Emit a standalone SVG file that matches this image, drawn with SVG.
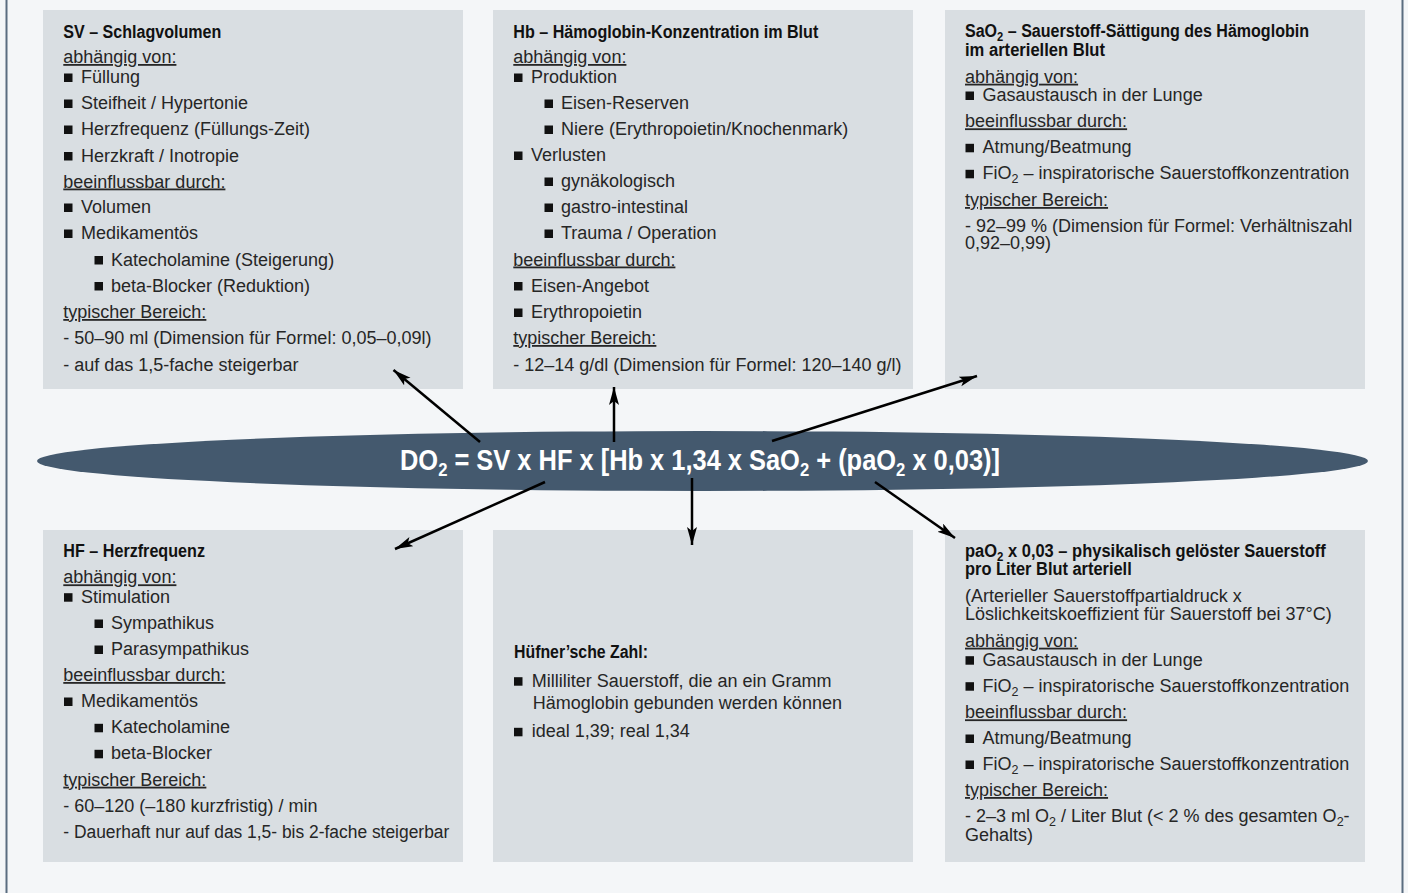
<svg xmlns="http://www.w3.org/2000/svg" width="1408" height="893" viewBox="0 0 1408 893">
<style>
.bg{fill:#f4f6f8}
.box{fill:#d9dee2}
.t{font-family:"Liberation Sans",Arial,sans-serif;font-size:18px;fill:#262626}
.h{font-family:"Liberation Sans",Arial,sans-serif;font-size:18px;font-weight:bold;fill:#111}
.u{text-decoration:underline}
.b{fill:#111}
.s{font-size:12.5px;baseline-shift:-4px}
.f{font-family:"Liberation Sans",Arial,sans-serif;font-size:29px;font-weight:bold;fill:#ffffff}
.fs{font-size:19px;baseline-shift:-6px}
.con line{stroke:#000;stroke-width:2.5;marker-end:url(#ah)}
</style>
<defs>
<marker id="ah" markerUnits="userSpaceOnUse" markerWidth="19" markerHeight="11" refX="18" refY="5" orient="auto">
<path d="M0,0 L18,5 L0,10 L4,5 z" fill="#000"/>
</marker>
</defs>
<rect class="bg" x="0" y="0" width="1408" height="893"/>
<line x1="6.5" y1="0" x2="6.5" y2="893" stroke="#5a6d80" stroke-width="2"/>
<line x1="1402.5" y1="0" x2="1402.5" y2="893" stroke="#5a6d80" stroke-width="2"/>

<g id="node-sv">
<rect class="box" x="43" y="10" width="420" height="379"/>
<text class="h" x="63.3" y="37.7" textLength="158" lengthAdjust="spacingAndGlyphs">SV – Schlagvolumen</text>
<text class="t u" x="63.3" y="63">abhängig von:</text>
<rect class="b" x="64" y="73.5" width="8.5" height="8.5"/><text class="t" x="81" y="83">Füllung</text>
<rect class="b" x="64" y="99.5" width="8.5" height="8.5"/><text class="t" x="81" y="109">Steifheit / Hypertonie</text>
<rect class="b" x="64" y="125.5" width="8.5" height="8.5"/><text class="t" x="81" y="135">Herzfrequenz (Füllungs-Zeit)</text>
<rect class="b" x="64" y="152" width="8.5" height="8.5"/><text class="t" x="81" y="161.5">Herzkraft / Inotropie</text>
<text class="t u" x="63.3" y="187.5">beeinflussbar durch:</text>
<rect class="b" x="64" y="203.5" width="8.5" height="8.5"/><text class="t" x="81" y="213">Volumen</text>
<rect class="b" x="64" y="229.5" width="8.5" height="8.5"/><text class="t" x="81" y="239">Medikamentös</text>
<rect class="b" x="94.5" y="256" width="8.5" height="8.5"/><text class="t" x="111" y="265.5">Katecholamine (Steigerung)</text>
<rect class="b" x="94.5" y="282" width="8.5" height="8.5"/><text class="t" x="111" y="291.5">beta-Blocker (Reduktion)</text>
<text class="t u" x="63.3" y="318">typischer Bereich:</text>
<text class="t" x="63.3" y="344">- 50–90 ml (Dimension für Formel: 0,05–0,09l)</text>
<text class="t" x="63.3" y="370.5">- auf das 1,5-fache steigerbar</text>
</g>

<g id="node-hb">
<rect class="box" x="493" y="10" width="420" height="379"/>
<text class="h" x="513.3" y="37.7" textLength="305" lengthAdjust="spacingAndGlyphs">Hb – Hämoglobin-Konzentration im Blut</text>
<text class="t u" x="513.3" y="63">abhängig von:</text>
<rect class="b" x="514" y="73.5" width="8.5" height="8.5"/><text class="t" x="531" y="83">Produktion</text>
<rect class="b" x="544.5" y="99.5" width="8.5" height="8.5"/><text class="t" x="561" y="109">Eisen-Reserven</text>
<rect class="b" x="544.5" y="125.5" width="8.5" height="8.5"/><text class="t" x="561" y="135">Niere (Erythropoietin/Knochenmark)</text>
<rect class="b" x="514" y="151.5" width="8.5" height="8.5"/><text class="t" x="531" y="161">Verlusten</text>
<rect class="b" x="544.5" y="177.5" width="8.5" height="8.5"/><text class="t" x="561" y="187">gynäkologisch</text>
<rect class="b" x="544.5" y="203.5" width="8.5" height="8.5"/><text class="t" x="561" y="213">gastro-intestinal</text>
<rect class="b" x="544.5" y="229.5" width="8.5" height="8.5"/><text class="t" x="561" y="239">Trauma / Operation</text>
<text class="t u" x="513.3" y="265.5">beeinflussbar durch:</text>
<rect class="b" x="514" y="282" width="8.5" height="8.5"/><text class="t" x="531" y="291.5">Eisen-Angebot</text>
<rect class="b" x="514" y="308.5" width="8.5" height="8.5"/><text class="t" x="531" y="318">Erythropoietin</text>
<text class="t u" x="513.3" y="344">typischer Bereich:</text>
<text class="t" x="513.3" y="370.5">- 12–14 g/dl (Dimension für Formel: 120–140 g/l)</text>
</g>

<g id="node-sao2">
<rect class="box" x="945" y="10" width="420" height="379"/>
<text class="h" x="965" y="36.7" textLength="344" lengthAdjust="spacingAndGlyphs">SaO<tspan class="s">2</tspan> – Sauerstoff-Sättigung des Hämoglobin</text>
<text class="h" x="965" y="55.7" textLength="140" lengthAdjust="spacingAndGlyphs">im arteriellen Blut</text>
<text class="t u" x="965" y="82.7">abhängig von:</text>
<rect class="b" x="965.5" y="91.5" width="8.5" height="8.5"/><text class="t" x="982.5" y="101">Gasaustausch in der Lunge</text>
<text class="t u" x="965" y="127.3">beeinflussbar durch:</text>
<rect class="b" x="965.5" y="143.8" width="8.5" height="8.5"/><text class="t" x="982.5" y="153.3">Atmung/Beatmung</text>
<rect class="b" x="965.5" y="169.8" width="8.5" height="8.5"/><text class="t" x="982.5" y="179.3">FiO<tspan class="s">2</tspan> – inspiratorische Sauerstoffkonzentration</text>
<text class="t u" x="965" y="206">typischer Bereich:</text>
<text class="t" x="965" y="231.7">- 92–99 % (Dimension für Formel: Verhältniszahl</text>
<text class="t" x="965" y="249.3">0,92–0,99)</text>
</g>

<g id="node-hf">
<rect class="box" x="43" y="530" width="420" height="332"/>
<text class="h" x="63.3" y="557.3" textLength="141.7" lengthAdjust="spacingAndGlyphs">HF – Herzfrequenz</text>
<text class="t u" x="63.3" y="583.3">abhängig von:</text>
<rect class="b" x="64" y="593.2" width="8.5" height="8.5"/><text class="t" x="81" y="602.7">Stimulation</text>
<rect class="b" x="94.5" y="619.5" width="8.5" height="8.5"/><text class="t" x="111" y="629">Sympathikus</text>
<rect class="b" x="94.5" y="645.5" width="8.5" height="8.5"/><text class="t" x="111" y="655">Parasympathikus</text>
<text class="t u" x="63.3" y="681">beeinflussbar durch:</text>
<rect class="b" x="64" y="697.5" width="8.5" height="8.5"/><text class="t" x="81" y="707">Medikamentös</text>
<rect class="b" x="94.5" y="723.8" width="8.5" height="8.5"/><text class="t" x="111" y="733.3">Katecholamine</text>
<rect class="b" x="94.5" y="749.8" width="8.5" height="8.5"/><text class="t" x="111" y="759.3">beta-Blocker</text>
<text class="t u" x="63.3" y="785.7">typischer Bereich:</text>
<text class="t" x="63.3" y="811.7">- 60–120 (–180 kurzfristig) / min</text>
<text class="t" x="63.3" y="838.3" textLength="386" lengthAdjust="spacingAndGlyphs">- Dauerhaft nur auf das 1,5- bis 2-fache steigerbar</text>
</g>

<g id="node-huefner">
<rect class="box" x="493" y="530" width="420" height="332"/>
<text class="h" x="514" y="658.3" textLength="134" lengthAdjust="spacingAndGlyphs">Hüfner’sche Zahl:</text>
<rect class="b" x="514" y="677.2" width="8.5" height="8.5"/><text class="t" x="531.7" y="686.7">Milliliter Sauerstoff, die an ein Gramm</text>
<text class="t" x="532.7" y="708.7">Hämoglobin gebunden werden können</text>
<rect class="b" x="514" y="727.8" width="8.5" height="8.5"/><text class="t" x="531.7" y="737.3">ideal 1,39; real 1,34</text>
</g>

<g id="node-pao2">
<rect class="box" x="945" y="530" width="420" height="332"/>
<text class="h" x="965" y="556.7" textLength="360.7" lengthAdjust="spacingAndGlyphs">paO<tspan class="s">2</tspan> x 0,03 – physikalisch gelöster Sauerstoff</text>
<text class="h" x="965" y="575" textLength="166.7" lengthAdjust="spacingAndGlyphs">pro Liter Blut arteriell</text>
<text class="t" x="965" y="602.3">(Arterieller Sauerstoffpartialdruck x</text>
<text class="t" x="965" y="620">Löslichkeitskoeffizient für Sauerstoff bei 37°C)</text>
<text class="t u" x="965" y="646.7">abhängig von:</text>
<rect class="b" x="965.5" y="656.2" width="8.5" height="8.5"/><text class="t" x="982.5" y="665.7">Gasaustausch in der Lunge</text>
<rect class="b" x="965.5" y="682.2" width="8.5" height="8.5"/><text class="t" x="982.5" y="691.7">FiO<tspan class="s">2</tspan> – inspiratorische Sauerstoffkonzentration</text>
<text class="t u" x="965" y="718.3">beeinflussbar durch:</text>
<rect class="b" x="965.5" y="734.5" width="8.5" height="8.5"/><text class="t" x="982.5" y="744">Atmung/Beatmung</text>
<rect class="b" x="965.5" y="760.5" width="8.5" height="8.5"/><text class="t" x="982.5" y="770">FiO<tspan class="s">2</tspan> – inspiratorische Sauerstoffkonzentration</text>
<text class="t u" x="965" y="796">typischer Bereich:</text>
<text class="t" x="965" y="822.3">- 2–3 ml O<tspan class="s">2</tspan> / Liter Blut (&lt; 2 % des gesamten O<tspan class="s">2</tspan>-</text>
<text class="t" x="965" y="840.7">Gehalts)</text>
</g>

<g id="node-formula">
<ellipse cx="702.5" cy="461" rx="665.5" ry="30" fill="#44596e"/>
<text class="f" x="400" y="470" textLength="600" lengthAdjust="spacingAndGlyphs">DO<tspan class="fs">2</tspan> = SV x HF x [Hb x 1,34 x SaO<tspan class="fs">2</tspan> + (paO<tspan class="fs">2</tspan> x 0,03)]</text>
</g>

<g id="connectors" class="con">
<line x1="480" y1="442" x2="393.5" y2="370"/>
<line x1="614" y1="442" x2="614" y2="387"/>
<line x1="772" y1="441" x2="977" y2="376"/>
<line x1="545" y1="482" x2="395" y2="549"/>
<line x1="692" y1="478" x2="692" y2="545"/>
<line x1="875" y1="482" x2="955" y2="538"/>
</g>
</svg>
